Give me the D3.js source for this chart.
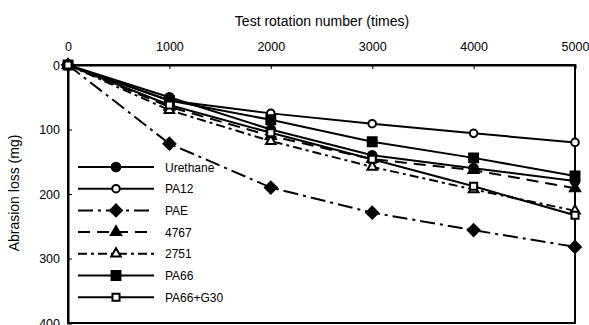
<!DOCTYPE html>
<html>
<head>
<meta charset="utf-8">
<script src="https://cdn.jsdelivr.net/npm/d3@7"></script>
<style>
  body { margin: 0; background: #fff; }
  text { font-family: "Liberation Sans", Arial, sans-serif; fill: #000; }
</style>
</head>
<body>
<div id="chart"></div>
<script>
var width = 589,
    height = 325

var rotations = [0, 1000, 2000, 3000, 4000, 5000]
var xTicks = [0, 1000, 2000, 3000, 4000, 5000]
var yTicks = [0, 100, 200, 300, 400]

var urethane = [0, 50, 100, 140, 160, 180]
var pa12     = [0, 55, 75, 91, 106, 120]
var pae      = [0, 122, 190, 229, 256, 282]
var s4767    = [0, 65, 110, 146, 163, 191]
var s2751    = [0, 70, 118, 158, 193, 226]
var pa66     = [0, 55, 85, 119, 144, 172]
var pa66g30  = [0, 62, 105, 146, 188, 233]

var names = ["Urethane", "PA12", "PAE", "4767", "2751", "PA66", "PA66+G30"]

// square diamond (rotated square), like the spreadsheet marker
var squareDiamond = {
  draw: function(ctx, size) {
    var r = Math.sqrt(size / 2)
    ctx.moveTo(0, -r); ctx.lineTo(r, 0); ctx.lineTo(0, r); ctx.lineTo(-r, 0); ctx.closePath()
  }
}

var series = [
  {name: names[0], values: urethane, dash: null,        sym: d3.symbolCircle,   size: 60, fill: "#000"},
  {name: names[1], values: pa12,     dash: null,        sym: d3.symbolCircle,   size: 45, fill: "#fff"},
  {name: names[2], values: pae,      dash: "15,5,3,5",  sym: squareDiamond,     size: 70, fill: "#000"},
  {name: names[3], values: s4767,    dash: "12,7",      sym: d3.symbolTriangle, size: 45, fill: "#000"},
  {name: names[4], values: s2751,    dash: "9,4,3,4",   sym: d3.symbolTriangle, size: 40, fill: "#fff"},
  {name: names[5], values: pa66,     dash: null,        sym: d3.symbolSquare,   size: 80, fill: "#000"},
  {name: names[6], values: pa66g30,  dash: null,        sym: d3.symbolSquare,   size: 50, fill: "#fff"}
]

var margin = {left: 68, right: 14, top: 65, bottom: 2}

var x = d3.scaleLinear().domain([0, 5000]).range([margin.left, width - margin.right])
var y = d3.scaleLinear().domain([0, 400]).range([margin.top, height - margin.bottom])

var svg = d3.select("#chart")
  .append("svg")
    .attr("width", width)
    .attr("height", height)

// frame
svg.append("rect")
  .attr("x", x(0)).attr("y", y(0))
  .attr("width", x(5000) - x(0)).attr("height", y(400) - y(0))
  .attr("fill", "none").attr("stroke", "#000").attr("stroke-width", 2)

// top axis
var xAxis = svg.append("g")
  .attr("transform", "translate(0," + y(0) + ")")
  .call(d3.axisTop(x).tickValues(xTicks).tickSize(-4).tickPadding(14).tickFormat(d3.format("d")))
xAxis.select(".domain").attr("stroke-width", 2)
xAxis.selectAll("text").style("font-size", "12.5px").attr("font-family", null)

var yAxis = svg.append("g")
  .attr("transform", "translate(" + x(0) + ",0)")
  .call(d3.axisLeft(y).tickValues(yTicks).tickSize(-4).tickPadding(8))
yAxis.select(".domain").attr("stroke-width", 2)
yAxis.selectAll("text").style("font-size", "12.5px").attr("font-family", null)

svg.append("text")
  .attr("x", 322).attr("y", 26)
  .attr("text-anchor", "middle")
  .style("font-size", "14px")
  .text("Test rotation number (times)")

svg.append("text")
  .attr("transform", "translate(19," + 193 + ") rotate(-90)")
  .attr("text-anchor", "middle")
  .style("font-size", "14px")
  .text("Abrasion loss (mg)")

var line = d3.line()
  .x(function(d, i) { return x(rotations[i]) })
  .y(function(d) { return y(d) })

var plot = svg.append("g")

series.forEach(function(s) {
  plot.append("path")
    .datum(s.values)
    .attr("d", line)
    .attr("fill", "none")
    .attr("stroke", "#000")
    .attr("stroke-width", 2)
    .attr("stroke-dasharray", s.dash)
})

series.forEach(function(s) {
  plot.selectAll(null)
    .data(s.values)
    .enter()
    .append("path")
      .attr("d", d3.symbol().type(s.sym).size(s.size))
      .attr("transform", function(d, i) { return "translate(" + x(rotations[i]) + "," + y(d) + ")" })
      .attr("fill", s.fill)
      .attr("stroke", "#000")
      .attr("stroke-width", 2)
})

// legend
var legend = svg.append("g").attr("transform", "translate(78,167)")
series.forEach(function(s, i) {
  var g = legend.append("g").attr("transform", "translate(0," + i * 21.7 + ")")
  g.append("line")
    .attr("x1", 0).attr("x2", 76)
    .attr("stroke", "#000").attr("stroke-width", 2)
    .attr("stroke-dasharray", s.dash)
  g.append("path")
    .attr("d", d3.symbol().type(s.sym).size(s.size))
    .attr("transform", "translate(38,0)")
    .attr("fill", s.fill).attr("stroke", "#000").attr("stroke-width", 2)
  g.append("text")
    .attr("x", 87).attr("y", 4.5)
    .style("font-size", "12px")
    .text(s.name)
})
</script>
</body>
</html>
